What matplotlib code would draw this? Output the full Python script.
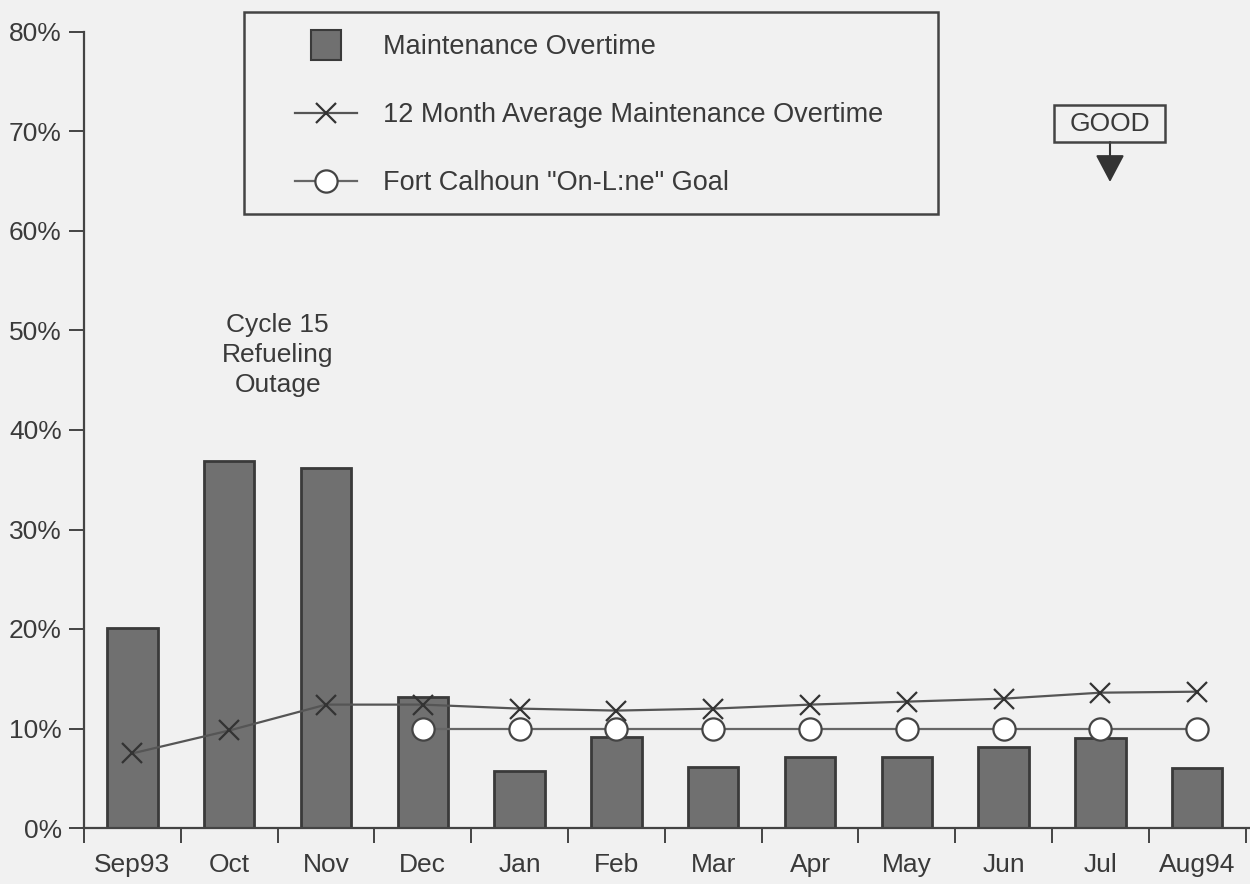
import numpy as np
import matplotlib
matplotlib.use("Agg")
import matplotlib.pyplot as plt
from matplotlib.lines import Line2D
from matplotlib.patches import Rectangle, FancyArrowPatch

# ---- data ----
months = ["Sep93", "Oct", "Nov", "Dec", "Jan", "Feb", "Mar", "Apr", "May", "Jun", "Jul", "Aug94"]
overtime = [20.1, 36.9, 36.2, 13.2, 5.7, 9.1, 6.1, 7.1, 7.1, 8.1, 9.0, 6.0]
avg12 = [7.5, 9.8, 12.4, 12.4, 12.0, 11.8, 12.0, 12.4, 12.7, 13.0, 13.6, 13.7]
goal = [np.nan, np.nan, np.nan, 10, 10, 10, 10, 10, 10, 10, 10, 10]
yticks = [0, 10, 20, 30, 40, 50, 60, 70, 80]
ytick_labels = ["0%", "10%", "20%", "30%", "40%", "50%", "60%", "70%", "80%"]
legend_labels = ["Maintenance Overtime",
                 "12 Month Average Maintenance Overtime",
                 'Fort Calhoun "On-L:ne" Goal']

plt.rcParams['font.family'] = ['Liberation Sans', 'DejaVu Sans']
TXT = '#3a3a3a'
BG = '#f1f1f1'
BAR = '#707070'
BAREDGE = '#3a3a3a'

W, H = 1250, 884


def fx(px):
    return px / W


def fy(py):
    return 1 - py / H


fig = plt.figure(figsize=(12.5, 8.84), dpi=100, facecolor=BG)
ax = fig.add_axes([fx(84), fy(828), 1166 / W, 796 / H])
ax.set_facecolor(BG)

x = np.arange(len(months))
ax.bar(x, overtime, width=0.52, color=BAR, edgecolor=BAREDGE, linewidth=2, zorder=2)
ax.plot(x, avg12, color='#555555', lw=1.6, marker='x', ms=15, mew=1.6,
        mec='#333333', zorder=4)
ax.plot(x, goal, color='#666666', lw=1.6, marker='o', ms=16, mew=1.6,
        mec='#444444', mfc='white', zorder=3)

ax.set_xlim(-0.5, -0.5 + 1166 / 96.8)
ax.set_ylim(0, 80)

for s in ['top', 'right']:
    ax.spines[s].set_visible(False)
for s in ['left', 'bottom']:
    ax.spines[s].set_color('#444444')
    ax.spines[s].set_linewidth(1.6)

ax.set_yticks(yticks)
ax.set_yticklabels(ytick_labels)
ax.tick_params(axis='y', length=11, width=1.4, color='#444444', pad=5,
               labelsize=19, labelcolor=TXT)

ax.set_xticks(np.arange(-0.5, len(months), 1.0))
ax.set_xticklabels([])
ax.tick_params(axis='x', which='major', length=11, width=1.4, color='#444444')
ax.set_xticks(x, minor=True)
ax.set_xticklabels(months, minor=True)
ax.tick_params(axis='x', which='minor', length=0, pad=18, labelsize=19, labelcolor=TXT)

# Annotation for the outage
ax.text(1.5, 47.5, "Cycle 15\nRefueling\nOutage", ha='center', va='center',
        fontsize=19, color=TXT, linespacing=1.32)

# GOOD indicator
fig.patches.append(Rectangle((fx(1054), fy(142)), (1165 - 1054) / W, (142 - 105) / H,
                             transform=fig.transFigure, fill=False,
                             edgecolor='#444444', linewidth=1.8))
fig.text(fx(1110), fy(124), "GOOD", ha='center', va='center', fontsize=19, color=TXT)
fig.add_artist(FancyArrowPatch(
    (fx(1110), fy(142)), (fx(1110), fy(182)), transform=fig.transFigure,
    arrowstyle='-|>,head_length=1.7,head_width=0.9', mutation_scale=10,
    color='#333333', lw=1.5, shrinkA=0, shrinkB=0))

# Legend box (frame drawn separately) and legend content
fig.patches.append(Rectangle((fx(244), fy(214)), (938 - 244) / W, (214 - 12) / H,
                             transform=fig.transFigure, fill=False,
                             edgecolor='#444444', linewidth=1.8))
handles = [
    Line2D([], [], ls='none', marker='s', ms=21, mfc=BAR, mec=BAREDGE, mew=1.5),
    Line2D([], [], color='#555555', lw=1.6, marker='x', ms=15, mew=1.6, mec='#333333'),
    Line2D([], [], color='#666666', lw=1.6, marker='o', ms=16, mew=1.6, mec='#444444', mfc='white'),
]
leg = fig.legend(handles, legend_labels, loc='upper left',
                 bbox_to_anchor=(fx(295), fy(34)), frameon=False,
                 fontsize=19.5, labelcolor=TXT, borderpad=0, borderaxespad=0,
                 handlelength=2.3, handletextpad=0.95, labelspacing=1.56)

fig.savefig("out.png", dpi=100, facecolor=BG)
